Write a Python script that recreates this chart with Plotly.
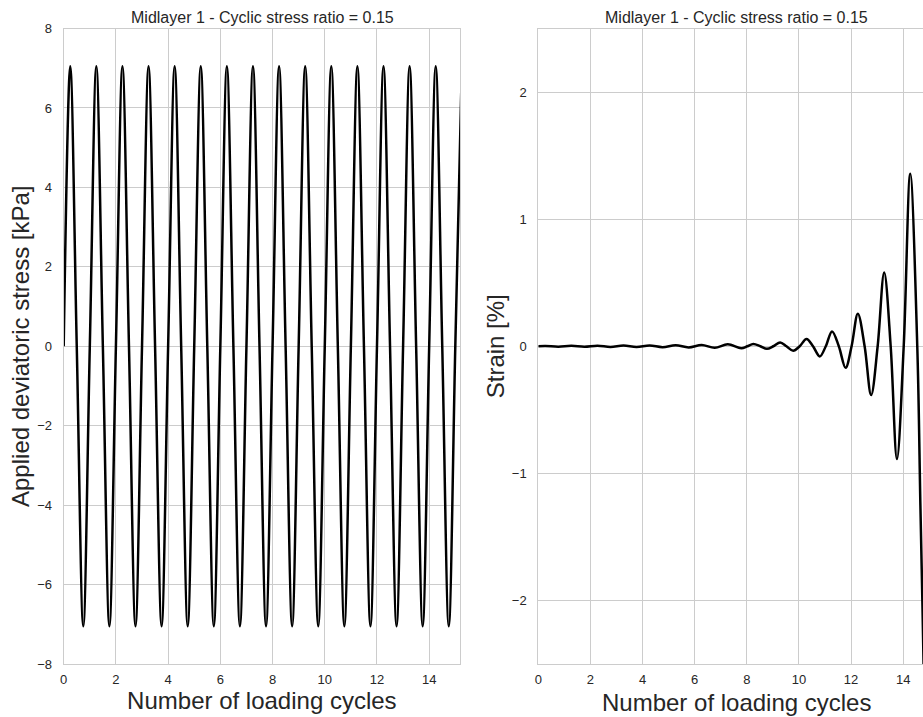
import plotly.graph_objects as go

# ---- Left panel: applied deviatoric stress (kPa) read at quarter cycles ----
stress_cycles = [
    0.0, 0.25, 0.5, 0.75, 1.0, 1.25, 1.5, 1.75, 2.0, 2.25, 2.5, 2.75,
    3.0, 3.25, 3.5, 3.75, 4.0, 4.25, 4.5, 4.75, 5.0, 5.25, 5.5, 5.75,
    6.0, 6.25, 6.5, 6.75, 7.0, 7.25, 7.5, 7.75, 8.0, 8.25, 8.5, 8.75,
    9.0, 9.25, 9.5, 9.75, 10.0, 10.25, 10.5, 10.75, 11.0, 11.25, 11.5, 11.75,
    12.0, 12.25, 12.5, 12.75, 13.0, 13.25, 13.5, 13.75, 14.0, 14.25, 14.5, 14.75,
    15.0, 15.25,
]
stress_kpa = [
    0, 7.05, 0, -7.05, 0, 7.05, 0, -7.05, 0, 7.05, 0, -7.05,
    0, 7.05, 0, -7.05, 0, 7.05, 0, -7.05, 0, 7.05, 0, -7.05,
    0, 7.05, 0, -7.05, 0, 7.05, 0, -7.05, 0, 7.05, 0, -7.05,
    0, 7.05, 0, -7.05, 0, 7.05, 0, -7.05, 0, 7.05, 0, -7.05,
    0, 7.05, 0, -7.05, 0, 7.05, 0, -7.05, 0, 7.05, 0, -7.05,
    0, 7.05,
]

# ---- Right panel: strain (%) read at peaks / troughs / crossings ----
strain_cycles = [
    0.0, 0.27, 0.77, 1.27, 1.77, 2.27, 2.77, 3.27, 3.77, 4.27, 4.77, 5.27,
    5.77, 6.27, 6.77, 7.27, 7.79, 8.02, 8.25, 8.52, 8.77, 9.02, 9.28, 9.52,
    9.78, 10.03, 10.29, 10.54, 10.80, 11.03, 11.27, 11.53, 11.79, 12.02,
    12.26, 12.52, 12.77, 13.02, 13.27, 13.52, 13.76, 14.02, 14.27, 14.54,
    14.66, 14.74, 14.82,
]
strain_pct = [
    0.0, 0.002, -0.003, 0.003, -0.004, 0.004, -0.005, 0.005, -0.006, 0.006, -0.007, 0.008,
    -0.009, 0.010, -0.012, 0.015, -0.016, 0.0, 0.018, 0.0, -0.02, 0.0, 0.03, 0.0,
    -0.035, 0.0, 0.057, 0.0, -0.08, 0.0, 0.117, 0.0, -0.17, 0.0,
    0.256, 0.0, -0.384, 0.0, 0.58, 0.0, -0.888, 0.0, 1.357, 0.0,
    -1.25, -2.05, -2.9,
]

left_ticks_x = [0, 2, 4, 6, 8, 10, 12, 14]
left_ticks_y = [-8, -6, -4, -2, 0, 2, 4, 6, 8]
right_ticks_y = [-2, -1, 0, 1, 2]

title_text = "Midlayer 1 - Cyclic stress ratio = 0.15"
x_title = "Number of loading cycles"

FONT = "Liberation Sans, Arial, Helvetica, sans-serif"
TXT = "#262626"
GRID = "#cccccc"
TICK_SIZE = 13
LABEL_SIZE = 24
TITLE_SIZE = 16

W, H = 923, 717
left_dom = [63.7 / W, 460.0 / W]
right_dom = [538.3 / W, 1.0]
y_dom = [(H - 664.0) / H, (H - 28.5) / H]

fig = go.Figure()
fig.add_trace(go.Scatter(
    x=stress_cycles, y=stress_kpa, mode="lines",
    line=dict(color="black", width=2.5, shape="spline", smoothing=1.0),
    xaxis="x", yaxis="y", showlegend=False, hoverinfo="x+y",
))
fig.add_trace(go.Scatter(
    x=strain_cycles, y=strain_pct, mode="lines",
    line=dict(color="black", width=2.5, shape="spline", smoothing=1.0),
    xaxis="x2", yaxis="y2", showlegend=False, hoverinfo="x+y",
))

axis_common = dict(
    showgrid=True, gridcolor=GRID, gridwidth=1,
    showline=True, linecolor=GRID, linewidth=1,
    zeroline=False, ticks="", automargin=False,
    tickfont=dict(family=FONT, size=TICK_SIZE, color=TXT),
)

fig.update_layout(
    template="none",
    width=W, height=H,
    margin=dict(l=0, r=0, t=0, b=0, pad=0),
    paper_bgcolor="white", plot_bgcolor="white",
    font=dict(family=FONT, color=TXT),
    xaxis=dict(
        domain=left_dom, range=[0, 15.18], tickvals=left_ticks_x,
        mirror=True, anchor="y", ticklabelstandoff=3,
        title=dict(text=x_title, font=dict(family=FONT, size=LABEL_SIZE, color=TXT), standoff=6),
        **axis_common,
    ),
    yaxis=dict(
        domain=y_dom, range=[-8, 8], tickvals=left_ticks_y,
        mirror=True, anchor="x", ticklabelstandoff=8,
        title=dict(text="Applied deviatoric stress [kPa]", font=dict(family=FONT, size=LABEL_SIZE, color=TXT), standoff=0),
        **axis_common,
    ),
    xaxis2=dict(
        domain=right_dom, range=[0, 14.76], tickvals=left_ticks_x,
        mirror=True, anchor="y2", ticklabelstandoff=3,
        **axis_common,
    ),
    yaxis2=dict(
        domain=y_dom, range=[-2.5, 2.5], tickvals=right_ticks_y,
        mirror=False, anchor="x2", ticklabelstandoff=8,
        title=dict(text="Strain [%]", font=dict(family=FONT, size=LABEL_SIZE, color=TXT), standoff=0),
        **axis_common,
    ),
    annotations=[
        dict(text=title_text, x=262 / W, y=(H - 17) / H, xref="paper", yref="paper",
             xanchor="center", yanchor="middle", showarrow=False,
             font=dict(family=FONT, size=TITLE_SIZE, color=TXT)),
        dict(text=title_text, x=736 / W, y=(H - 17) / H, xref="paper", yref="paper",
             xanchor="center", yanchor="middle", showarrow=False,
             font=dict(family=FONT, size=TITLE_SIZE, color=TXT)),
        dict(text=x_title, x=736 / W, y=(H - 702) / H, xref="paper", yref="paper",
             xanchor="center", yanchor="middle", showarrow=False,
             font=dict(family=FONT, size=LABEL_SIZE, color=TXT)),
    ],
)

fig.write_html(
    "out.html",
    config={"displayModeBar": False},
    post_script="document.body.style.margin='0';document.body.style.overflow='hidden';",
)
